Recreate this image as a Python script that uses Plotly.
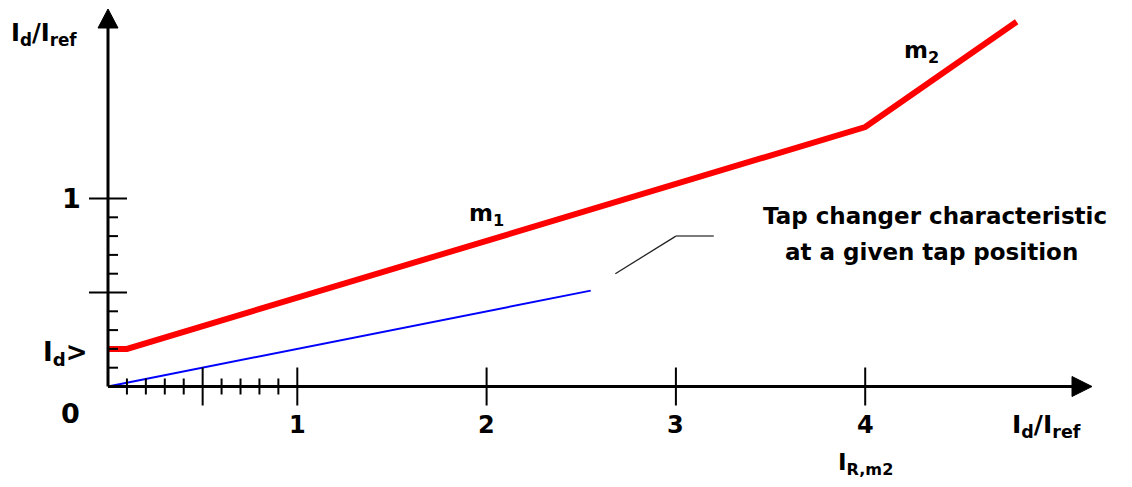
import plotly.graph_objects as go

# Characteristic curves (Id/Iref vs Ibias/Iref)
red_x = [0.0, 0.1, 4.0, 4.8]
red_y = [0.2, 0.2, 1.38, 1.94]
blue_x = [0.0, 2.55]
blue_y = [0.0, 0.51]
# Leader line for the tap-changer label
leader_x = [2.68, 3.0]
leader_y = [0.60, 0.80]
leader_tail_x = [3.0, 3.2]
leader_tail_y = [0.80, 0.80]

# Axis ticks
x_major = [0.5, 1, 2, 3, 4]
x_minor = [0.1, 0.2, 0.3, 0.4, 0.6, 0.7, 0.8, 0.9]
x_labels = ["1", "2", "3", "4"]
x_label_pos = [1, 2, 3, 4]
y_major = [0.5, 1]
y_minor = [0.1, 0.2, 0.3, 0.4, 0.6, 0.7, 0.8, 0.9]

W, H = 1132, 487
PX_X = 189.3   # pixels per x unit
PX_Y = 188.0   # pixels per y unit
ORIG_X, ORIG_Y = 108, 386.5
x_range = [-ORIG_X / PX_X, (W - ORIG_X) / PX_X]
y_range = [-(H - ORIG_Y) / PX_Y, ORIG_Y / PX_Y]

FONT = "DejaVu Sans"

fig = go.Figure()

fig.add_trace(go.Scatter(x=blue_x, y=blue_y, mode="lines",
                         line=dict(color="#0000ff", width=2), hoverinfo="skip"))
fig.add_trace(go.Scatter(x=red_x, y=red_y, mode="lines",
                         line=dict(color="#ff0000", width=6), hoverinfo="skip"))
fig.add_trace(go.Scatter(x=leader_x, y=leader_y, mode="lines",
                         line=dict(color="#222222", width=1.3), hoverinfo="skip"))
fig.add_trace(go.Scatter(x=leader_tail_x, y=leader_tail_y, mode="lines",
                         line=dict(color="#7a7a7a", width=2), hoverinfo="skip"))

shapes = []
axis_line = dict(color="black", width=3)
tick_line = dict(color="black", width=2)

# axis lines
x_arrow_base = (1072 - ORIG_X) / PX_X
y_arrow_base = (ORIG_Y - 28) / PX_Y
shapes.append(dict(type="line", xref="x", yref="y", x0=0, x1=x_arrow_base,
                   y0=0, y1=0, line=axis_line))
shapes.append(dict(type="line", xref="x", yref="y", x0=0, x1=0,
                   y0=0, y1=y_arrow_base, line=axis_line))

# arrow heads (pixel-sized, anchored at the arrow bases)
shapes.append(dict(type="path", xref="x", yref="y",
                   xsizemode="pixel", ysizemode="pixel",
                   xanchor=x_arrow_base, yanchor=0,
                   path="M 0,-10 L 20,0 L 0,10 Z",
                   fillcolor="black", line=dict(color="black", width=1)))
shapes.append(dict(type="path", xref="x", yref="y",
                   xsizemode="pixel", ysizemode="pixel",
                   xanchor=0, yanchor=y_arrow_base,
                   path="M -10,0 L 0,19 L 10,0 Z",
                   fillcolor="black", line=dict(color="black", width=1)))

# x ticks: major cross the axis widely, minor ones are short
for v in x_major:
    shapes.append(dict(type="line", xref="x", yref="y", ysizemode="pixel",
                       yanchor=0, y0=-19, y1=19, x0=v, x1=v, line=tick_line))
for v in x_minor:
    shapes.append(dict(type="line", xref="x", yref="y", ysizemode="pixel",
                       yanchor=0, y0=-8, y1=8, x0=v, x1=v, line=tick_line))
# y ticks: major cross, minor only on the right side
for v in y_major:
    shapes.append(dict(type="line", xref="x", yref="y", xsizemode="pixel",
                       xanchor=0, x0=-19, x1=19, y0=v, y1=v, line=tick_line))
for v in y_minor:
    shapes.append(dict(type="line", xref="x", yref="y", xsizemode="pixel",
                       xanchor=0, x0=0, x1=10, y0=v, y1=v, line=tick_line))

ann = []


def text(x, y, s, size, xshift=0, yshift=0, xanchor="center", yanchor="middle"):
    ann.append(dict(x=x, y=y, xref="x", yref="y", text=s, showarrow=False,
                    xanchor=xanchor, yanchor=yanchor, xshift=xshift, yshift=yshift,
                    font=dict(family=FONT, size=size, color="black", weight="bold")))


for v, s in zip(x_label_pos, x_labels):
    text(v, 0, s, 24, yshift=-38)
text(0, 1, "1", 27, xshift=-37)
text(0, 0, "0", 27, xshift=-38, yshift=-27)
text(0, 0.2, "I<sub>d</sub>>", 26, xshift=-43, yshift=-5)
text(0, y_range[1], "I<sub>d</sub>/I<sub>ref</sub>", 24, xshift=-64, yshift=-34)
text(x_range[1], 0, "I<sub>d</sub>/I<sub>ref</sub>", 25, xshift=-86, yshift=-39)
text(4, 0, "I<sub>R,m2</sub>", 23, yshift=-77)
text(2.0, 0.91, "m<sub>1</sub>", 23)
text(4.3, 1.78, "m<sub>2</sub>", 23)
text(4.37, 0.907, "Tap changer characteristic", 23)
text(4.35, 0.715, "at a given tap position", 23)

fig.update_layout(
    width=W, height=H,
    margin=dict(l=0, r=0, t=0, b=0),
    paper_bgcolor="white", plot_bgcolor="white",
    showlegend=False,
    xaxis=dict(range=x_range, visible=False, fixedrange=True),
    yaxis=dict(range=y_range, visible=False, fixedrange=True),
    shapes=shapes, annotations=ann,
)

fig.write_html("out.html")
